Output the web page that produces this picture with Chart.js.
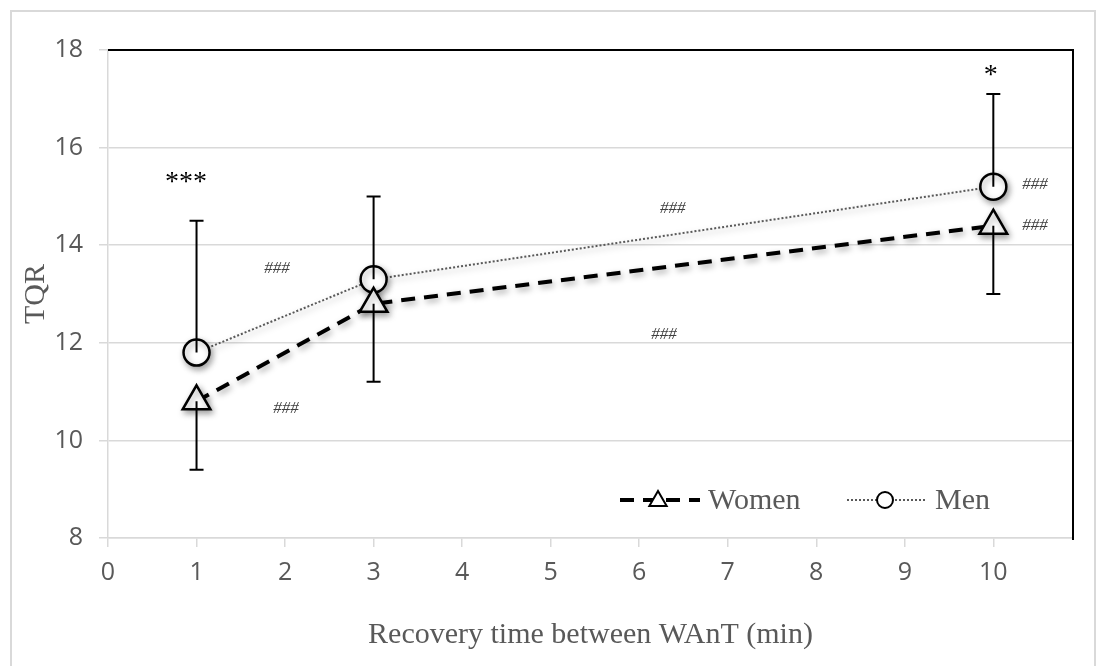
<!DOCTYPE html>
<html>
<head>
<meta charset="utf-8">
<script src="https://cdn.jsdelivr.net/npm/chart.js@4/dist/chart.umd.min.js"></script>
<style>
  html, body { margin: 0; padding: 0; background: #fff; }
  #wrap { width: 1106px; height: 666px; position: relative; }
</style>
</head>
<body>
<div id="wrap"><canvas id="chart"></canvas></div>
<script>
// values
const recoveryMin = [1, 3, 10];
const womenTQR = [10.8, 12.8, 14.4];
const womenSD = [1.4, 1.6, 1.4];   // drawn downward
const menTQR = [11.8, 13.3, 15.2];
const menSD = [2.7, 1.7, 1.9];     // drawn upward
const xTicks = [0, 1, 2, 3, 4, 5, 6, 7, 8, 9, 10];

// significance marks (text, x in min, y in TQR)
const markText = ["***", "*", "###", "###", "###", "###", "###", "###"];
const markX = [0.88, 9.97, 1.91, 2.01, 6.38, 6.28, 10.47, 10.47];
const markY = [15.4, 17.6, 13.53, 10.66, 14.76, 12.16, 15.25, 14.4];

const GREY = "#595959";
const SERIF = "'Liberation Serif', 'DejaVu Serif', serif";

const frame = {
  id: "frame",
  beforeDraw(chart) {
    const ctx = chart.ctx;
    ctx.save();
    ctx.fillStyle = "#fff";
    ctx.fillRect(0, 0, chart.width, chart.height);
    ctx.strokeStyle = "#d9d9d9";
    ctx.lineWidth = 2;
    ctx.strokeRect(11, 11, chart.width - 22, chart.height + 10);
    ctx.restore();
  },
  beforeDatasetsDraw(chart) {
    const { ctx, chartArea: a } = chart;
    ctx.save();
    ctx.strokeStyle = "#000";
    ctx.lineWidth = 2;
    ctx.beginPath();
    ctx.moveTo(a.left, a.top);
    ctx.lineTo(a.right, a.top);
    ctx.lineTo(a.right, a.bottom + 2);
    ctx.stroke();
    ctx.restore();
  },
};

// soft drop shadow like the office chart
const shadow = {
  id: "shadow",
  beforeDatasetDraw(chart) {
    const ctx = chart.ctx;
    ctx.save();
    ctx.shadowColor = "rgba(0,0,0,0.35)";
    ctx.shadowBlur = 6;
    ctx.shadowOffsetX = 2;
    ctx.shadowOffsetY = 3;
  },
  afterDatasetDraw(chart) {
    chart.ctx.restore();
  },
};

const errorBars = {
  id: "errorBars",
  afterDatasetsDraw(chart) {
    const { ctx, scales } = chart;
    ctx.save();
    ctx.strokeStyle = "#000";
    ctx.lineWidth = 2;
    chart.data.datasets.forEach((ds) => {
      ds.data.forEach((p, i) => {
        const x = scales.x.getPixelForValue(p.x);
        const y0 = scales.y.getPixelForValue(p.y);
        const y1 = scales.y.getPixelForValue(p.y + ds.errorDir * ds.errors[i]);
        ctx.beginPath();
        ctx.moveTo(x, y0);
        ctx.lineTo(x, y1);
        ctx.moveTo(x - 7, y1);
        ctx.lineTo(x + 7, y1);
        ctx.stroke();
      });
    });
    ctx.restore();
  },
};

const marks = {
  id: "marks",
  afterDatasetsDraw(chart) {
    const { ctx, scales } = chart;
    ctx.save();
    ctx.textAlign = "center";
    ctx.textBaseline = "middle";
    markText.forEach((t, i) => {
      const x = scales.x.getPixelForValue(markX[i]);
      const y = scales.y.getPixelForValue(markY[i]);
      if (t === "###") {
        ctx.font = "italic 17px " + SERIF;
        ctx.fillStyle = "#404040";
      } else {
        ctx.font = "28px " + SERIF;
        ctx.fillStyle = "#000";
      }
      ctx.fillText(t, x, y + (t === "###" ? 0 : 6));
    });
    ctx.restore();
  },
};

function drawMarker(ctx, style, x, y, r) {
  ctx.beginPath();
  if (style === "triangle") {
    ctx.moveTo(x, y - r);
    ctx.lineTo(x + r * 0.866, y + r * 0.5);
    ctx.lineTo(x - r * 0.866, y + r * 0.5);
    ctx.closePath();
  } else {
    ctx.arc(x, y, r, 0, Math.PI * 2);
  }
  ctx.fill();
  ctx.stroke();
}

const legendBox = {
  id: "legendBox",
  afterDraw(chart) {
    const { ctx, chartArea: a } = chart;
    const y = a.bottom - 38;
    const items = [
      { x: a.left + 512, r: 10 },
      { x: a.left + 739, r: 8 },
    ];
    ctx.save();
    chart.data.datasets.forEach((ds, i) => {
      const it = items[i];
      ctx.strokeStyle = ds.borderColor;
      ctx.lineWidth = ds.borderWidth;
      ctx.setLineDash(ds.borderDash);
      ctx.beginPath();
      ctx.moveTo(it.x, y);
      ctx.lineTo(it.x + 80, y);
      ctx.stroke();
      ctx.setLineDash([]);
      ctx.fillStyle = "#fff";
      ctx.strokeStyle = "#000";
      ctx.lineWidth = 2;
      drawMarker(ctx, ds.pointStyle, it.x + 38, y + (ds.pointStyle === "triangle" ? 1 : 0), it.r);
      ctx.fillStyle = GREY;
      ctx.font = "30px " + SERIF;
      ctx.textAlign = "left";
      ctx.textBaseline = "middle";
      ctx.fillText(ds.label, it.x + 88, y + 1);
    });
    ctx.restore();
  },
};

new Chart(document.getElementById("chart"), {
  type: "line",
  plugins: [frame, shadow, errorBars, marks, legendBox],
  data: {
    datasets: [
      // Women
      {
        label: "Women",
        data: recoveryMin.map((m, i) => ({ x: m, y: womenTQR[i] })),
        errors: womenSD,
        errorDir: -1,
        borderColor: "#000",
        borderWidth: 4,
        borderDash: [14, 9],
        pointStyle: "triangle",
        pointRadius: 16,
        pointBorderWidth: 2.5,
        pointBorderColor: "#000",
        pointBackgroundColor: "#fff",
        tension: 0,
      },
      // Men
      {
        label: "Men",
        data: recoveryMin.map((m, i) => ({ x: m, y: menTQR[i] })),
        errors: menSD,
        errorDir: 1,
        borderColor: "#595959",
        borderWidth: 2,
        borderDash: [2, 2],
        pointStyle: "circle",
        pointRadius: 13,
        pointBorderWidth: 2.5,
        pointBorderColor: "#000",
        pointBackgroundColor: "#fff",
        tension: 0,
      },
    ],
  },
  options: {
    responsive: true,
    maintainAspectRatio: false,
    animation: false,
    layout: { padding: { left: 0, top: 50, right: 33, bottom: 0 } },
    plugins: {
      legend: { display: false },
      tooltip: { enabled: false },
    },
    scales: {
      x: {
        type: "linear",
        min: 0,
        max: 10.9,
        afterFit: (s) => { s.height = 128; },
        afterBuildTicks: (s) => { s.ticks = xTicks.map((v) => ({ value: v })); },
        ticks: {
          autoSkip: false,
          maxRotation: 0,
          color: GREY,
          padding: 11,
          font: { family: "'Open Sans'", size: 25 },
        },
        grid: { drawOnChartArea: false, tickLength: 9, color: "#d9d9d9", lineWidth: 1.5 },
        border: { color: "#d9d9d9", width: 1.5 },
        title: {
          display: true,
          text: "Recovery time between WAnT (min)",
          color: GREY,
          font: { family: SERIF, size: 30 },
          padding: { top: 0, bottom: 13 },
        },
      },
      y: {
        min: 8,
        max: 18,
        afterFit: (s) => { s.width = 108; },
        ticks: {
          stepSize: 2,
          color: GREY,
          padding: 16,
          font: { family: "'Open Sans'", size: 25 },
        },
        grid: { color: "#d9d9d9", lineWidth: 1.5, tickLength: 9 },
        border: { color: "#d9d9d9", width: 1.5 },
        title: {
          display: true,
          text: "TQR",
          color: GREY,
          font: { family: SERIF, size: 30 },
          padding: { top: 18, bottom: 0 },
        },
      },
    },
  },
});
</script>
</body>
</html>
